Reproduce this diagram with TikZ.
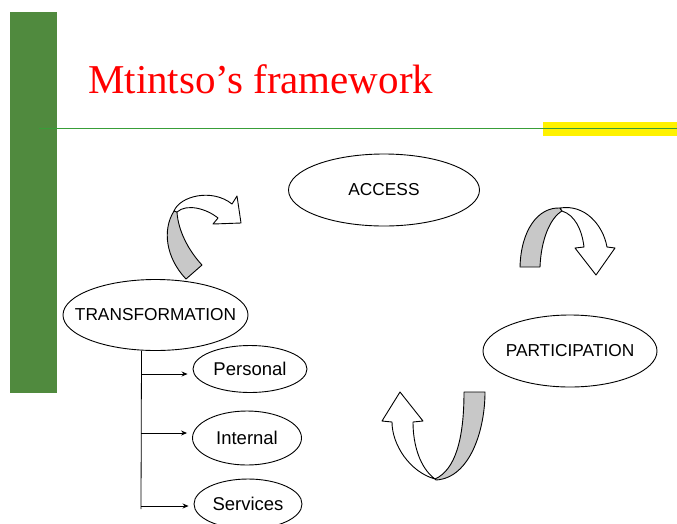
\documentclass[tikz,border=0pt]{standalone}
\usepackage{fontspec}
\setmainfont{Liberation Sans}
\newfontfamily\titlefont{Liberation Serif}
\usetikzlibrary{shapes.geometric,arrows.meta}
\definecolor{barGreen}{RGB}{80,138,62}
\definecolor{lineGreen}{RGB}{56,158,56}
\definecolor{bandGray}{RGB}{200,200,200}
\begin{document}
\begin{tikzpicture}[x=1pt,y=-1pt,
	stage/.style={draw,ellipse,line width=.9pt,inner sep=0pt,font=\fontsize{17.3}{19}\selectfont},
	subpart/.style={draw,ellipse,line width=.9pt,inner sep=0pt,font=\fontsize{18.5}{20}\selectfont},
	band/.style={draw,line width=.9pt,line join=round},
	treearrow/.style={-{Stealth[length=6pt,width=5pt]},line width=.8pt,shorten >=5pt}]
	\useasboundingbox (0,0) rectangle (677,523);
	\fill[barGreen] (10,12) rectangle (57,393);
	\fill[yellow] (543,122) rectangle (677,136);
	\draw[lineGreen,line width=1.2pt] (39,128.3)--(677,128.3);
	\node[anchor=base west,inner sep=0pt,text=red,font=\titlefont\fontsize{41}{44}\selectfont] (title) at (88,93) {Mtintso’s framework};
	% the three stages
	\node[stage,minimum width=191pt,minimum height=72pt] (access) at (384,190) {ACCESS};
	\node[stage,inner xsep=-17pt,minimum width=185pt,minimum height=71pt] (trans) at (155.5,315) {TRANSFORMATION};
	\node[stage,inner xsep=-6pt,minimum width=174pt,minimum height=72pt] (partic) at (570,351) {PARTICIPATION};
	% kinds of transformation
	\node[subpart,minimum width=114pt,minimum height=47pt] (pers) at (250,369) {Personal};
	\node[subpart,minimum width=109pt,minimum height=54pt] (inter) at (247,438) {Internal};
	\node[subpart,minimum width=108pt,minimum height=50pt] (serv) at (248,504) {Services};
	\coordinate (t0) at ([xshift=-14pt]trans.south);
	\coordinate (t1) at (141,374);
	\coordinate (t2) at (141,433);
	\coordinate (t3) at (141,506);
	\coordinate (tend) at (141,509);
	\draw[line width=.8pt] (t0)--(tend);
	\draw[treearrow] (t1)--(t1 -| pers.west);
	\draw[treearrow] (t2)--(t2 -| inter.west);
	\draw[treearrow] (t3)--(t3 -| serv.west);
	% transformation -> access
	\draw[band,fill=bandGray] (186,279)--(202,265) ..controls (188,250) and (178,230)..(177,212)
	--(174,211) ..controls (162,230) and (166,258)..(186,279)--cycle;
	\draw[band,fill=white] (174,211) ..controls (180,196) and (212,188)..(232,204)
	--(237,196)--(241,223)--(213,224)--(218,218) ..controls (207,209) and (187,203)..(177,212)--cycle;
	% access -> participation
	\draw[band,fill=bandGray] (520,267)--(540,267) ..controls (541,240) and (550,218)..(562,211)
	--(560,208) ..controls (538,207) and (521,230)..(520,267)--cycle;
	\draw[band,fill=white] (560,208) ..controls (585,204) and (603,225)..(607,247)
	--(615,248)--(596,275)--(575,248)--(584,247) ..controls (582,230) and (575,215)..(562,211)--cycle;
	% participation -> transformation
	\draw[band,fill=bandGray] (464,392)--(485,392) ..controls (485,430) and (470,478)..(436,480)
	--(435,479) ..controls (455,470) and (464,440)..(464,392)--cycle;
	\draw[band,fill=white] (435,479) ..controls (410,472) and (392,445)..(392,422)
	--(382,421)--(400,392)--(423,421)--(413,422) ..controls (413,445) and (420,468)..(435,479)--cycle;
\end{tikzpicture}
\end{document}
